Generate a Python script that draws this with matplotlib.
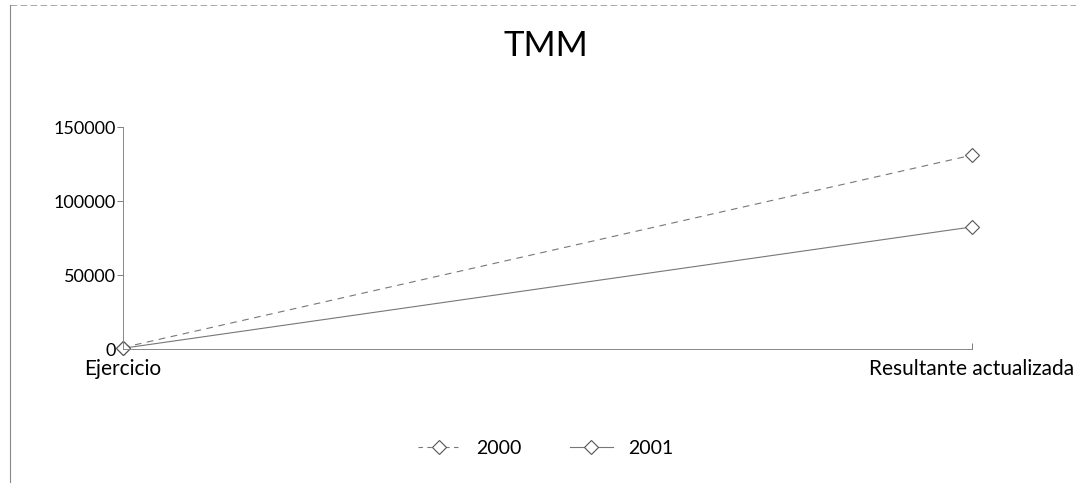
import numpy as np
import matplotlib.pyplot as plt
from matplotlib.lines import Line2D

categories = ['Ejercicio', 'Resultante actualizada']
serie_2000 = [1000, 131000]
serie_2001 = [500, 82500]
series_names = ['2000', '2001']
yticks = [0, 50000, 100000, 150000]

plt.rcParams['font.family'] = ['Lato', 'DejaVu Sans']

fig = plt.figure(figsize=(10.76, 4.83), dpi=100)
ax = fig.add_axes([0.1143, 0.2774, 0.7890, 0.4596])

x = np.arange(len(categories))
ax.plot(x, serie_2000, color='#777777', lw=0.8, ls=(0, (6, 5)), clip_on=False,
        marker='D', ms=7, mfc='white', mec='#555555', mew=0.8, label=series_names[0])
ax.plot(x, serie_2001, color='#777777', lw=0.8, ls='-', clip_on=False,
        marker='D', ms=7, mfc='white', mec='#555555', mew=0.8, label=series_names[1])

ax.set_xlim(0, 1)
ax.set_ylim(0, 150000)
ax.set_yticks(yticks)
ax.set_yticklabels([str(v) for v in yticks], fontsize=13)
ax.set_xticks(x)
ax.set_xticklabels(categories, fontsize=15)
ax.tick_params(axis='y', length=4, width=0.6, color='#666666', pad=1)
ax.tick_params(axis='x', length=4, width=0.6, color='#666666', pad=7, direction='in')
for s in ['top', 'right']:
    ax.spines[s].set_visible(False)
for s in ['left', 'bottom']:
    ax.spines[s].set_color('#888888')
    ax.spines[s].set_linewidth(0.7)
for lbl in ax.get_xticklabels():
    lbl.set_clip_on(False)

fig.text(0.507, 0.905, 'TMM', ha='center', va='center', fontsize=25)

handles = [Line2D([], [], color='#777777', lw=0.8, ls=(0, (4, 4)), marker='D', ms=7,
                  mfc='white', mec='#555555', mew=0.8),
           Line2D([], [], color='#777777', lw=0.8, ls='-', marker='D', ms=7,
                  mfc='white', mec='#555555', mew=0.8)]
fig.legend(handles, series_names, loc='center', bbox_to_anchor=(0.507, 0.072), ncol=2,
           frameon=False, fontsize=14, handlelength=2.2, columnspacing=2.5)

# marco del grafico
fig.add_artist(Line2D([0.0093, 0.0093], [0.0, 0.99], transform=fig.transFigure,
                      color='#888888', lw=0.8))
fig.add_artist(Line2D([0.0093, 1.0], [0.99, 0.99], transform=fig.transFigure,
                      color='#999999', lw=0.6, ls=(0, (8, 4))))

fig.savefig('out.png', dpi=100)
